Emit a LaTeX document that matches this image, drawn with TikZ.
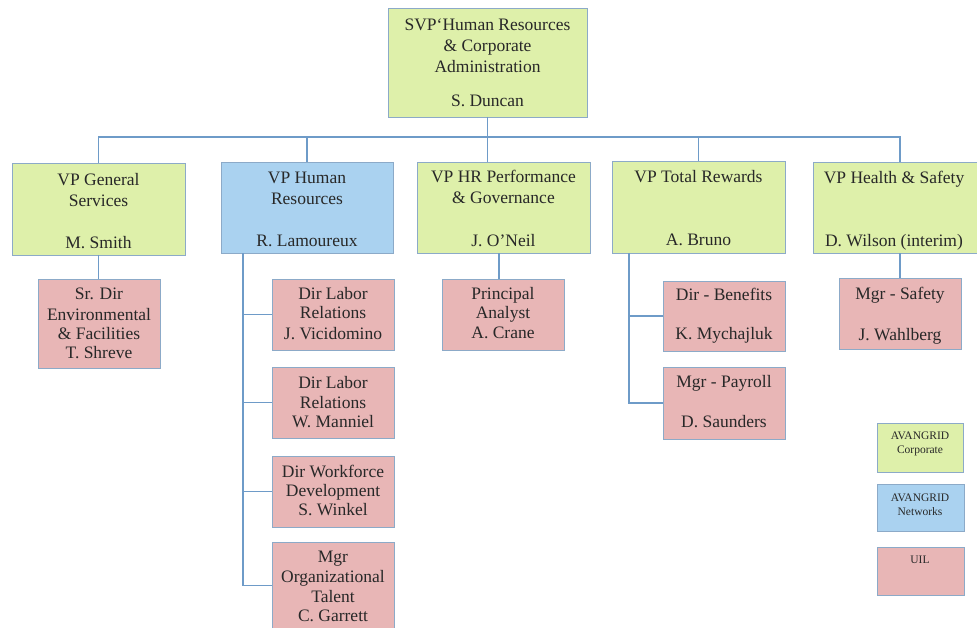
\documentclass[tikz,border=0pt]{standalone}
\usepackage{fontspec}
\setmainfont{LiberationSerif}[Extension=.ttf, UprightFont=*-Regular, BoldFont=*-Bold]
\begin{document}
\definecolor{corpgreen}{RGB}{222,240,170}
\definecolor{netblue}{RGB}{170,210,240}
\definecolor{uilpink}{RGB}{232,182,182}
\definecolor{boxedge}{RGB}{140,170,200}
\definecolor{linkblue}{RGB}{110,155,200}
\definecolor{ink}{RGB}{40,40,40}
\begin{tikzpicture}[x=1pt,y=-1pt,
  orgbox/.style={draw=boxedge, line width=0.9pt, inner sep=0pt, outer sep=0pt, anchor=north west},
  corp/.style={orgbox, fill=corpgreen},
  net/.style={orgbox, fill=netblue},
  uil/.style={orgbox, fill=uilpink},
  conn/.style={draw=linkblue, line width=1.3pt},
  txt/.style={anchor=base, inner sep=0pt, text=ink, font=\fontsize{17.5}{20.5}\selectfont},
  small/.style={anchor=base, inner sep=0pt, text=ink, font=\fontsize{11.5}{13.5}\selectfont}]
\useasboundingbox[fill=white] (0,0) rectangle (977,628);

% --- boxes ---
\node[corp, minimum width=199pt, minimum height=109pt] (svp) at (388,8) {};
\node[corp, minimum width=173pt, minimum height=92pt] (gs) at (12,163) {};
\node[net,  minimum width=172pt, minimum height=91pt] (hr) at (221,162) {};
\node[corp, minimum width=173pt, minimum height=91pt] (hrp) at (417,162) {};
\node[corp, minimum width=173pt, minimum height=92pt] (tr) at (612,161) {};
\node[corp, minimum width=174pt, minimum height=91pt] (hs) at (813,162) {};

\node[uil, minimum width=122pt, minimum height=89pt] (sd) at (38,279) {};
\node[uil, minimum width=122pt, minimum height=71pt] (jv) at (272,279) {};
\node[uil, minimum width=122pt, minimum height=71pt] (wm) at (272,367) {};
\node[uil, minimum width=122pt, minimum height=71pt] (sw) at (272,456) {};
\node[uil, minimum width=122pt, minimum height=87pt] (cg) at (272,542) {};
\node[uil, minimum width=122pt, minimum height=71pt] (pa) at (442,279) {};
\node[uil, minimum width=122pt, minimum height=70pt] (kb) at (663,281) {};
\node[uil, minimum width=122pt, minimum height=72pt] (ds) at (663,367) {};
\node[uil, minimum width=122pt, minimum height=71pt] (ms) at (839,278) {};

% legend
\node[corp, minimum width=86pt, minimum height=49pt] (lgc) at (877,423) {};
\node[net,  minimum width=87pt, minimum height=47pt] (lgn) at (877,484) {};
\node[uil,  minimum width=87pt, minimum height=48pt] (lgu) at (877,547) {};

% --- connectors ---
\coordinate (bus) at (0,137);
\draw[conn] (svp.south) -- (svp.south |- hrp.north);
\draw[conn] (gs.north) |- (hs.north |- bus) -- (hs.north);
\draw[conn] (hr.north) -- (hr.north |- bus);
\draw[conn] (tr.north) -- (tr.north |- bus);
\draw[conn] (gs.south) -- (gs.south |- sd.north);
\draw[conn] ([xshift=-4pt]pa.north) -- ([xshift=-4pt]pa.north |- hrp.south);
\draw[conn] (ms.north) -- (ms.north |- hs.south);

\coordinate (hrspine) at ([xshift=22pt]hr.south west);
\draw[conn] (hrspine) |- (cg.west);
\draw[conn] (jv.west) -- (jv.west -| hrspine);
\draw[conn] (wm.west) -- (wm.west -| hrspine);
\draw[conn] (sw.west) -- (sw.west -| hrspine);

\coordinate (trspine) at ([xshift=17pt]tr.south west);
\draw[conn] (trspine) |- (ds.west);
\draw[conn] (kb.west) -- (kb.west -| trspine);

% --- texts ---
\node[txt] (svp1) at (487.5,31) {SVP`Human Resources};
\node[txt] (svp2) at (487.5,52) {\& Corporate};
\node[txt] (svp3) at (487.5,73) {Administration};
\node[txt] (svp4) at (487.5,107) {S. Duncan};

\node[txt] (gs1) at (98.5,186) {VP General};
\node[txt] (gs2) at (98.5,207) {Services};
\node[txt] (gs3) at (98.5,249) {M. Smith};

\node[txt] (hr1) at (307,184) {VP Human};
\node[txt] (hr2) at (307,205) {Resources};
\node[txt] (hr3) at (307,247) {R. Lamoureux};

\node[txt] (hrp1) at (503.5,183) {VP HR Performance};
\node[txt] (hrp2) at (503.5,204) {\& Governance};
\node[txt] (hrp3) at (503.5,247) {J. O’Neil};

\node[txt] (tr1) at (698.5,183) {VP Total Rewards};
\node[txt] (tr2) at (698.5,246) {A. Bruno};

\node[txt] (hs1) at (894,184) {VP Health \& Safety};
\node[txt] (hs2) at (894,247) {D. Wilson (interim)};

\node[txt] (sd1) at (99,300) {Sr. Dir};
\node[txt] (sd2) at (99,320) {Environmental};
\node[txt] (sd3) at (99,339) {\& Facilities};
\node[txt] (sd4) at (99,358) {T. Shreve};

\node[txt] (jv1) at (333,300) {Dir Labor};
\node[txt] (jv2) at (333,319) {Relations};
\node[txt] (jv3) at (333,339) {J. Vicidomino};

\node[txt] (wm1) at (333,388) {Dir Labor};
\node[txt] (wm2) at (333,408) {Relations};
\node[txt] (wm3) at (333,427) {W. Manniel};

\node[txt] (sw1) at (333,477) {Dir Workforce};
\node[txt] (sw2) at (333,496) {Development};
\node[txt] (sw3) at (333,515) {S. Winkel};

\node[txt] (cg1) at (333,562) {Mgr};
\node[txt] (cg2) at (333,582) {Organizational};
\node[txt] (cg3) at (333,602) {Talent};
\node[txt] (cg4) at (333,621) {C. Garrett};

\node[txt] (pa1) at (503,299) {Principal};
\node[txt] (pa2) at (503,318) {Analyst};
\node[txt] (pa3) at (503,338) {A. Crane};

\node[txt] (kb1) at (724,301) {Dir - Benefits};
\node[txt] (kb2) at (724,339) {K. Mychajluk};

\node[txt] (ds1) at (724,387) {Mgr - Payroll};
\node[txt] (ds2) at (724,427) {D. Saunders};

\node[txt] (ms1) at (900,299) {Mgr - Safety};
\node[txt] (ms2) at (900,340) {J. Wahlberg};

\node[small] (lgc1) at (920,439) {AVANGRID};
\node[small] (lgc2) at (920,453) {Corporate};
\node[small] (lgn1) at (920,501) {AVANGRID};
\node[small] (lgn2) at (920,515) {Networks};
\node[small] (lgu1) at (920,563) {UIL};
\end{tikzpicture}
\end{document}
